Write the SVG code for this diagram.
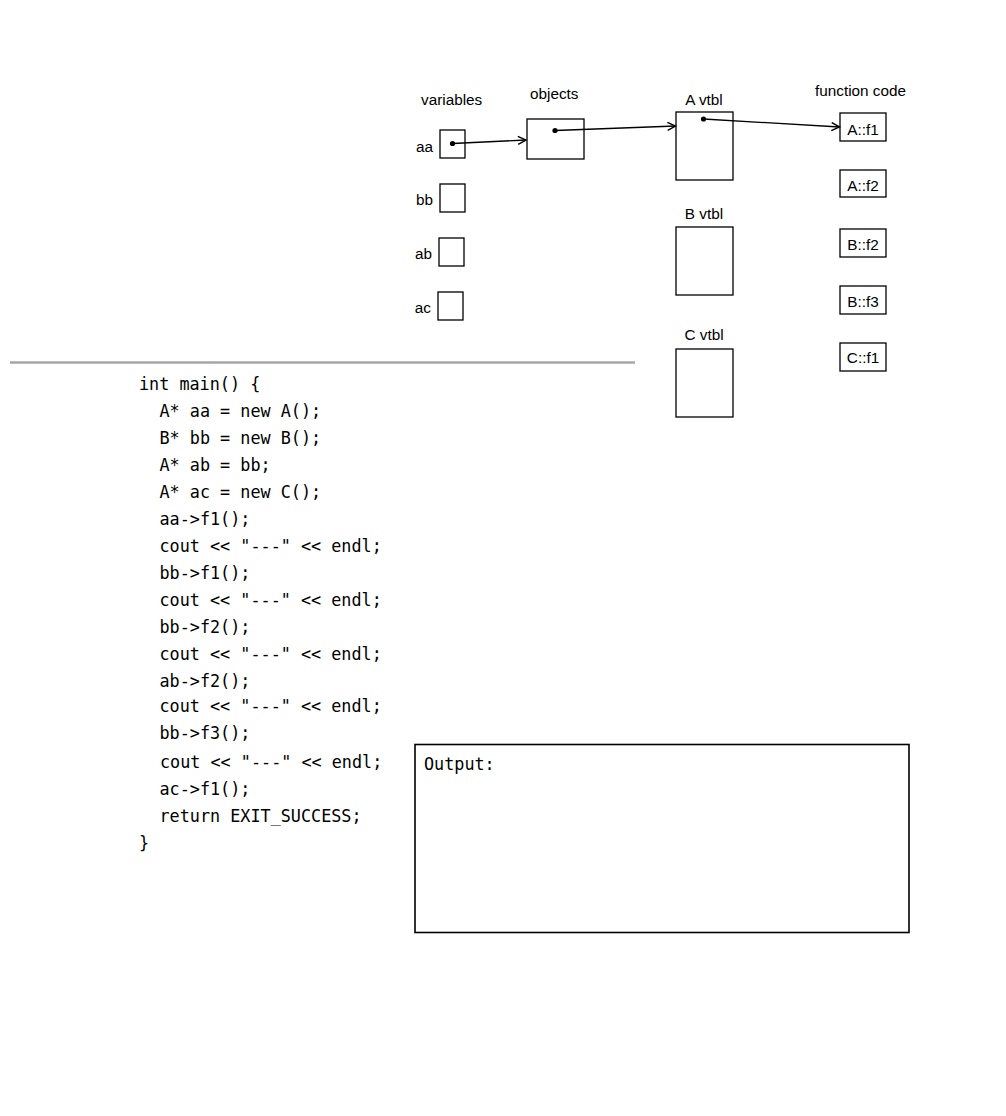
<svg xmlns="http://www.w3.org/2000/svg" width="1006" height="1116" viewBox="0 0 1006 1116">
<style>
.box{fill:#fff;stroke:#000;stroke-width:1.3}
.lbl{font-family:"Liberation Sans",Arial,sans-serif;font-size:15.3px;fill:#000}
.mid{text-anchor:middle}
.end{text-anchor:end}
.code{font-family:"DejaVu Sans Mono","Liberation Mono",monospace;font-size:16.8px;fill:#000}
.conn{stroke:#000;stroke-width:1.3;fill:none}
.dot{fill:#000}
</style>
<defs>
<marker id="arr" markerUnits="userSpaceOnUse" markerWidth="12" markerHeight="12" refX="9" refY="5" orient="auto">
<path d="M1,1 L9,5 L1,9" fill="none" stroke="#000" stroke-width="1.4"/>
</marker>
</defs>
<rect width="1006" height="1116" fill="#fff"/>

<text class="lbl" x="421" y="105">variables</text>
<text class="lbl" x="530" y="99">objects</text>
<text class="lbl mid" x="704" y="105">A vtbl</text>
<text class="lbl" x="815" y="96">function code</text>

<g id="var-aa"><text class="lbl end" x="433" y="152">aa</text><rect class="box" x="440" y="130" width="25" height="28"/></g>
<g id="var-bb"><text class="lbl end" x="433" y="205">bb</text><rect class="box" x="440" y="184" width="25" height="28"/></g>
<g id="var-ab"><text class="lbl end" x="432" y="259">ab</text><rect class="box" x="439" y="238" width="25" height="28"/></g>
<g id="var-ac"><text class="lbl end" x="431" y="313">ac</text><rect class="box" x="438" y="292" width="25" height="28"/></g>

<g id="obj-a"><rect class="box" x="527" y="119" width="57" height="40"/></g>

<g id="vtbl-a"><rect class="box" x="676" y="112" width="57" height="68"/></g>
<g id="vtbl-b"><text class="lbl mid" x="704" y="219">B vtbl</text><rect class="box" x="676" y="227" width="57" height="68"/></g>
<g id="vtbl-c"><text class="lbl mid" x="704" y="340">C vtbl</text><rect class="box" x="676" y="349" width="57" height="68"/></g>

<g id="fn-af1"><rect class="box" x="840" y="113" width="46" height="28"/><text class="lbl mid" x="863" y="135">A::f1</text></g>
<g id="fn-af2"><rect class="box" x="840" y="170" width="46" height="27"/><text class="lbl mid" x="863" y="191">A::f2</text></g>
<g id="fn-bf2"><rect class="box" x="840" y="229" width="46" height="28"/><text class="lbl mid" x="863" y="250">B::f2</text></g>
<g id="fn-bf3"><rect class="box" x="840" y="286" width="46" height="28"/><text class="lbl mid" x="863" y="307">B::f3</text></g>
<g id="fn-cf1"><rect class="box" x="840" y="343" width="46" height="28"/><text class="lbl mid" x="863" y="363">C::f1</text></g>

<g id="connectors">
<circle class="dot" cx="452.5" cy="143.5" r="2.6"/>
<line class="conn" x1="452.5" y1="143.5" x2="526" y2="140" marker-end="url(#arr)"/>
<circle class="dot" cx="555" cy="130.5" r="2.6"/>
<line class="conn" x1="555" y1="130.5" x2="675.5" y2="126" marker-end="url(#arr)"/>
<circle class="dot" cx="703.5" cy="119" r="2.6"/>
<line class="conn" x1="703.5" y1="119" x2="839.5" y2="127" marker-end="url(#arr)"/>
</g>

<line x1="10" y1="362.5" x2="635" y2="362.5" stroke="#a6a6a6" stroke-width="2.5"/>

<g id="code">
<text class="code" x="139" y="390">int main() {</text>
<text class="code" x="159.5" y="417">A* aa = new A();</text>
<text class="code" x="159.5" y="444">B* bb = new B();</text>
<text class="code" x="159.5" y="471">A* ab = bb;</text>
<text class="code" x="159.5" y="498">A* ac = new C();</text>
<text class="code" x="159.5" y="525">aa-&gt;f1();</text>
<text class="code" x="159.5" y="552">cout &lt;&lt; "---" &lt;&lt; endl;</text>
<text class="code" x="159.5" y="579">bb-&gt;f1();</text>
<text class="code" x="159.5" y="606">cout &lt;&lt; "---" &lt;&lt; endl;</text>
<text class="code" x="159.5" y="633">bb-&gt;f2();</text>
<text class="code" x="159.5" y="660">cout &lt;&lt; "---" &lt;&lt; endl;</text>
<text class="code" x="159.5" y="687">ab-&gt;f2();</text>
<text class="code" x="159.5" y="712">cout &lt;&lt; "---" &lt;&lt; endl;</text>
<text class="code" x="159.5" y="739">bb-&gt;f3();</text>
<text class="code" x="160" y="768">cout &lt;&lt; "---" &lt;&lt; endl;</text>
<text class="code" x="159.5" y="795">ac-&gt;f1();</text>
<text class="code" x="159.5" y="822">return EXIT_SUCCESS;</text>
<text class="code" x="139" y="849">}</text>
</g>

<g id="output">
<rect x="415" y="744.5" width="494" height="188" fill="#fff" stroke="#000" stroke-width="1.6"/>
<text class="code" x="424" y="770">Output:</text>
</g>
</svg>
